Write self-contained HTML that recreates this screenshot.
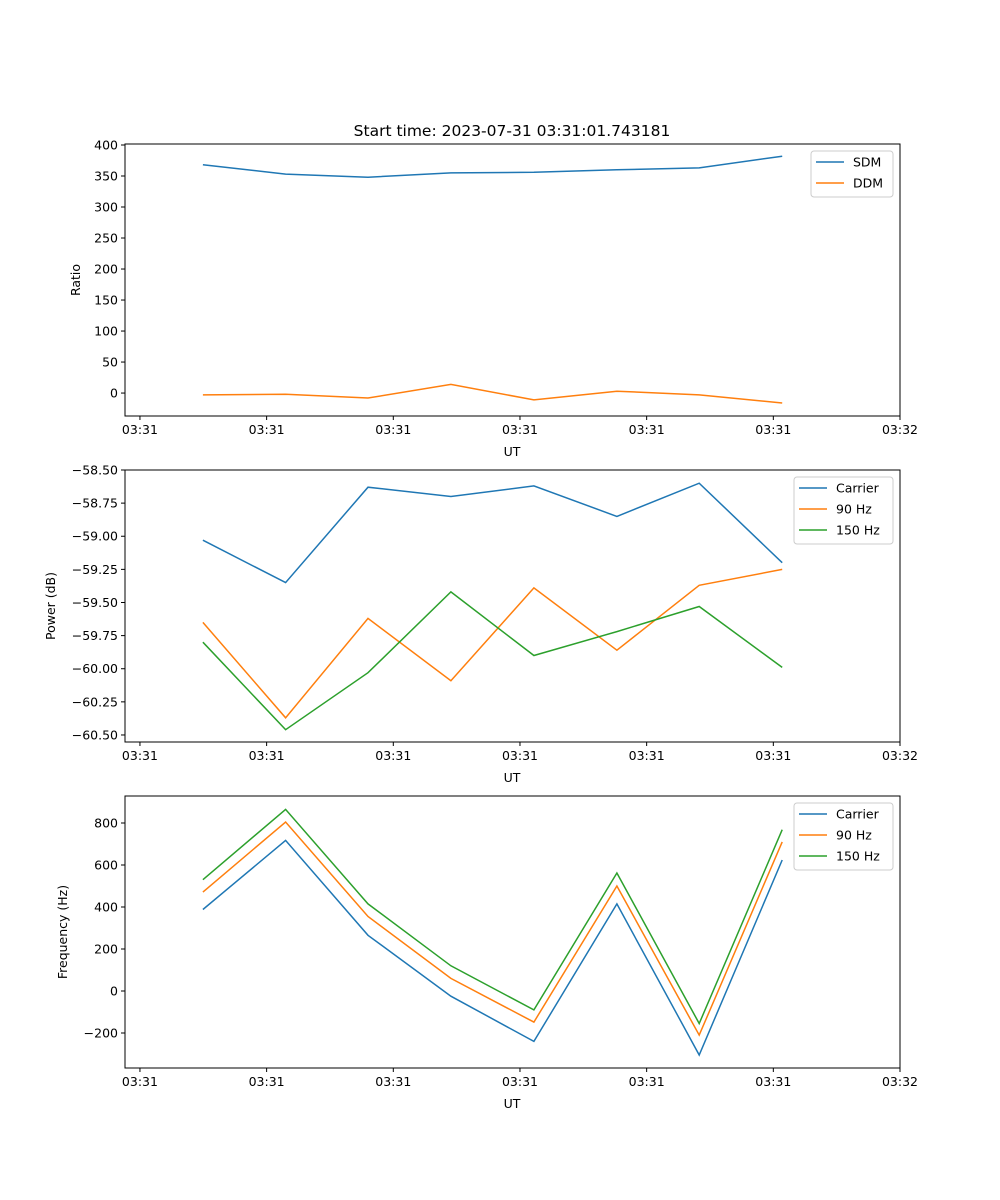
<!DOCTYPE html>
<html><head><meta charset="utf-8"><style>
html,body{margin:0;padding:0;background:#fff;}
svg{display:block;font-family:"DejaVu Sans","Liberation Sans",sans-serif;}
</style></head><body>
<svg id="fig" width="1000" height="1200" viewBox="0 0 1000 1200">
<rect width="1000" height="1200" fill="#fff"/>
<text x="512" y="136" font-size="15.5" text-anchor="middle">Start time: 2023-07-31 03:31:01.743181</text>
</svg>
<script>
const times = [4.97, 11.5, 18.0, 24.55, 31.1, 37.65, 44.15, 50.7];
const xTickVals = [0, 10, 20, 30, 40, 50, 60];
const xTickLabels = ["03:31","03:31","03:31","03:31","03:31","03:31","03:32"];
const sdm = [368, 353, 348, 355, 356, 360, 363, 382];
const ddm = [-3, -2, -8, 14, -11, 3, -3, -16];
const powCarrier = [-59.03, -59.35, -58.63, -58.70, -58.62, -58.85, -58.60, -59.20];
const pow90 = [-59.65, -60.37, -59.62, -60.09, -59.39, -59.86, -59.37, -59.25];
const pow150 = [-59.80, -60.46, -60.03, -59.42, -59.90, -59.72, -59.53, -59.99];
const freqCarrier = [388, 717, 265, -25, -240, 415, -305, 624];
const freq90 = [471, 805, 355, 60, -148, 500, -210, 710];
const freq150 = [530, 865, 415, 120, -90, 562, -155, 768];
const ticks1 = [0, 50, 100, 150, 200, 250, 300, 350, 400];
const ticks2 = [-60.5, -60.25, -60.0, -59.75, -59.5, -59.25, -59.0, -58.75, -58.5];
const ticks3 = [-200, 0, 200, 400, 600, 800];

const NS = "http://www.w3.org/2000/svg";
const svg = document.getElementById("fig");
const X0 = 125, X1 = 900, xmin = -1.18, xmax = 60;
function xs(v){ return X0 + (v - xmin) / (xmax - xmin) * (X1 - X0); }
function mk(tag, attrs, parent){ const e = document.createElementNS(NS, tag); for (const k in attrs) e.setAttribute(k, attrs[k]); (parent||svg).appendChild(e); return e; }
const colors = ["#1f77b4", "#ff7f0e", "#2ca02c"];
const FS = 12.5;

function panel(key, top, bottom, ymin, ymax, yticks, fmt, ylabel, ylabelX, series, names, legendW){
  const g = mk("g", {});
  
  
  const ys = v => bottom - (v - ymin) / (ymax - ymin) * (bottom - top);
  series.forEach((arr, si) => {
    const pts = arr.map((v, i) => xs(times[i]).toFixed(1) + "," + ys(v).toFixed(1)).join(" ");
    const pl = mk("polyline", {points: pts, fill: "none", stroke: colors[si], "stroke-width": 1.5}, g);
    
    
  });
  const fr = mk("rect", {x: X0, y: top, width: X1 - X0, height: bottom - top, fill: "none", stroke: "#000", "stroke-width": 1}, g);
  
  
  xTickVals.forEach((v, i) => {
    const x = xs(v);
    mk("line", {x1: x, x2: x, y1: bottom, y2: bottom + 4, stroke: "#000"}, g);
    const t = mk("text", {x: x, y: bottom + 18, "font-size": FS, "text-anchor": "middle"}, g);
    t.textContent = xTickLabels[i];
    
    
  });
  const xl = mk("text", {x: 512, y: bottom + 40, "font-size": FS, "text-anchor": "middle"}, g);
  xl.textContent = "UT";
  
  
  yticks.forEach(v => {
    const y = ys(v);
    mk("line", {x1: X0 - 4, x2: X0, y1: y, y2: y, stroke: "#000"}, g);
    const t = mk("text", {x: X0 - 7, y: y + 4.5, "font-size": FS, "text-anchor": "end"}, g);
    t.textContent = fmt(v);
    
    
  });
  const cy = (top + bottom) / 2;
  const yl = mk("text", {x: ylabelX, y: cy, "font-size": FS, "text-anchor": "middle", transform: "rotate(-90 " + ylabelX + " " + cy + ")"}, g);
  yl.textContent = ylabel;
  
  
  const lx = 893 - legendW, ly = top + 7, lh = 4 + names.length * 21;
  const lg = mk("g", {}, g);
  
  
  mk("rect", {x: lx, y: ly, width: legendW, height: lh, rx: 3, fill: "#fff", "fill-opacity": 0.8, stroke: "#ccc"}, lg);
  names.forEach((n, i) => {
    const yy = ly + 11 + i * 21;
    mk("line", {x1: lx + 5, x2: lx + 33, y1: yy, y2: yy, stroke: colors[i], "stroke-width": 1.5}, lg);
    const t = mk("text", {x: lx + 42, y: yy + 4.5, "font-size": FS}, lg);
    t.textContent = n;
    
    
  });
}
const mFmt = v => (v < 0 ? "\u2212" : "") + Math.abs(v).toFixed(2);
const iFmt = v => (v < 0 ? "\u2212" : "") + Math.abs(v);
panel("ratio", 144, 416, -37, 401.6, ticks1, iFmt, "Ratio", 80, [sdm, ddm], ["SDM", "DDM"], 82);
panel("power", 470, 742, -60.553, -58.5, ticks2, mFmt, "Power (dB)", 55, [powCarrier, pow90, pow150], ["Carrier", "90 Hz", "150 Hz"], 99);
panel("frequency", 796, 1068, -366.7, 928.6, ticks3, iFmt, "Frequency (Hz)", 67, [freqCarrier, freq90, freq150], ["Carrier", "90 Hz", "150 Hz"], 99);
</script>
</body></html>
